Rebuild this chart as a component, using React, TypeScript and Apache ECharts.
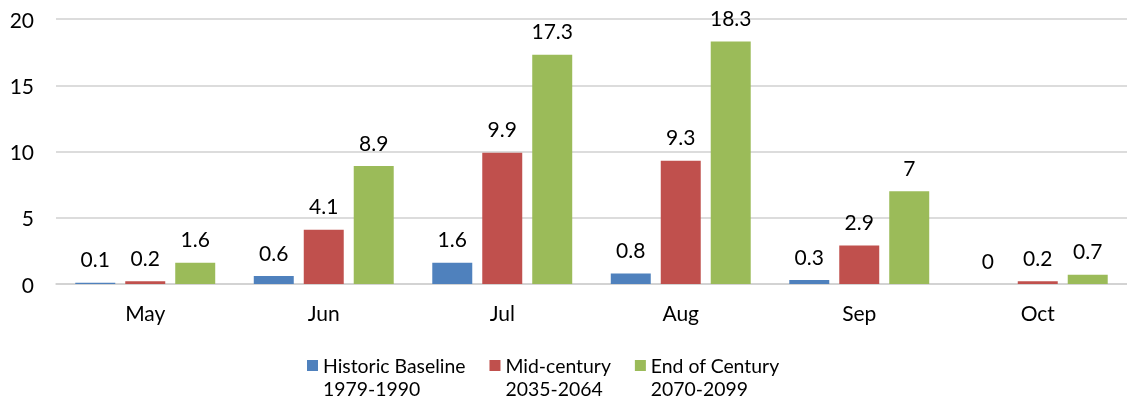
import React, { useEffect, useRef } from "react";
import * as echarts from "echarts";

const categories = ["May", "Jun", "Jul", "Aug", "Sep", "Oct"];
const historic = [0.1, 0.6, 1.6, 0.8, 0.3, 0];
const midCentury = [0.2, 4.1, 9.9, 9.3, 2.9, 0.2];
const endCentury = [1.6, 8.9, 17.3, 18.3, 7, 0.7];
const seriesNames = ["Historic Baseline\n1979-1990", "Mid-century\n2035-2064", "End of Century\n2070-2099"];
const colors = ["#4F81BD", "#C0504D", "#9BBB59"];

const FONT = "Lato, 'Open Sans', sans-serif";

// square swatch at the top of a tall transparent box, so it lines up with the first text line
const SWATCH = "path://M0,0 L11,0 L11,11 L0,11 Z M0,34 L0.01,34 L0.01,34.01 Z";

export default function App() {
  const ref = useRef<HTMLDivElement>(null);
  useEffect(() => {
    if (!ref.current) return;
    const chart = echarts.init(ref.current, undefined, { renderer: "svg" });
    const data = [historic, midCentury, endCentury];
    chart.setOption({
      animation: false,
      textStyle: { fontFamily: FONT },
      grid: { left: 56, right: 0, top: 19, bottom: 124 },
      legend: {
        top: 349,
        left: 302,
        itemWidth: 11,
        itemHeight: 34,
        itemGap: 24,
        icon: SWATCH,
        textStyle: {
          fontSize: 19.4,
          color: "#000",
          lineHeight: 23,
          fontFamily: FONT,
        },
        data: seriesNames,
      },
      xAxis: {
        type: "category",
        data: categories,
        axisTick: { show: false },
        axisLine: { lineStyle: { color: "#d0d0d0", width: 1.5 } },
        axisLabel: { fontSize: 21, color: "#000", margin: 18, fontFamily: FONT },
      },
      yAxis: {
        type: "value",
        min: 0,
        max: 20,
        interval: 5,
        axisLine: { show: false },
        axisTick: { show: false },
        splitLine: { lineStyle: { color: "#d0d0d0", width: 1.5 } },
        axisLabel: { fontSize: 21, color: "#000", margin: 22, fontFamily: FONT },
      },
      series: seriesNames.map((name, i) => ({
        name,
        type: "bar",
        data: data[i],
        barGap: "25%",
        barCategoryGap: "21.6%",
        itemStyle: { color: colors[i] },
        label: {
          show: true,
          position: "top",
          distance: 13.5,
          fontSize: 21,
          color: "#000",
          fontFamily: FONT,
        },
      })),
    });
    return () => chart.dispose();
  }, []);
  return (
    <div
      ref={ref}
      style={{ position: "fixed", left: 0, top: 0, width: 1127, height: 408 }}
    />
  );
}
